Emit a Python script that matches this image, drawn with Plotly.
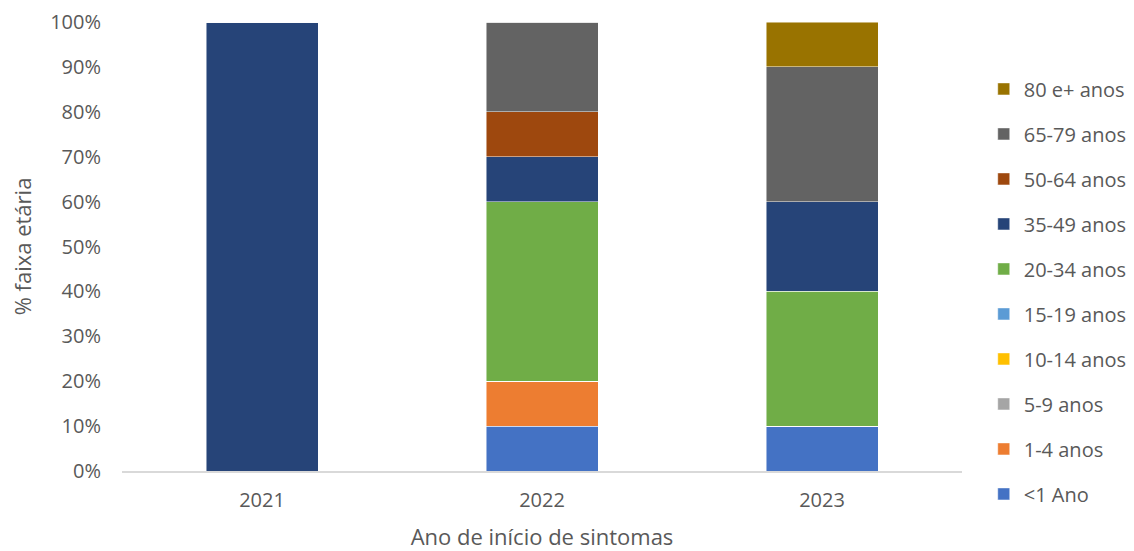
import plotly.graph_objects as go

years = ["2021", "2022", "2023"]
groups = ["<1 Ano", "1-4 anos", "5-9 anos", "10-14 anos", "15-19 anos",
          "20-34 anos", "35-49 anos", "50-64 anos", "65-79 anos", "80 e+ anos"]
values = {
    "<1 Ano":     [0, 10, 10],
    "1-4 anos":   [0, 10, 0],
    "5-9 anos":   [0, 0, 0],
    "10-14 anos": [0, 0, 0],
    "15-19 anos": [0, 0, 0],
    "20-34 anos": [0, 40, 30],
    "35-49 anos": [100, 10, 20],
    "50-64 anos": [0, 10, 0],
    "65-79 anos": [0, 20, 30],
    "80 e+ anos": [0, 0, 10],
}
colors = ["#4472C4", "#ED7D31", "#A5A5A5", "#FFC000", "#5B9BD5",
          "#70AD47", "#264478", "#9E480E", "#636363", "#997300"]
yticks = list(range(0, 101, 10))
ytext = [f"{v}%" for v in yticks]

FONT = "Open Sans"
TXT = "#595959"

fig = go.Figure()
for i, (g, c) in enumerate(zip(groups, colors)):
    fig.add_trace(go.Bar(
        x=years, y=values[g], name=g, legendgroup=g, legendrank=1000 - i,
        marker=dict(color=c, line=dict(color="rgba(255,255,255,0.6)", width=0.8)),
    ))

fig.update_layout(
    barmode="stack",
    bargap=0.6,
    width=1134, height=551,
    margin=dict(l=122, r=172, t=22, b=80),
    paper_bgcolor="white", plot_bgcolor="white",
    font=dict(family=FONT, size=20, color=TXT),
    showlegend=True,
    legend=dict(
        xref="container", yref="container",
        x=0.8675, xanchor="left", y=0.874, yanchor="top",
        traceorder="grouped", tracegroupgap=16,
        font=dict(family=FONT, size=20, color=TXT),
        itemwidth=30, maxheight=540, borderwidth=0,
    ),
    xaxis=dict(
        automargin=False,
        showline=True, linecolor="#D9D9D9", linewidth=1.5,
        ticks="", tickfont=dict(size=20, color=TXT), ticklabelstandoff=10,
        title=dict(text="Ano de início de sintomas", font=dict(size=22, color=TXT), standoff=24),
        showgrid=False,
    ),
    yaxis=dict(
        automargin=False,
        range=[0, 100], tickvals=yticks, ticktext=ytext,
        showgrid=False, zeroline=False, showline=False, ticks="",
        tickfont=dict(size=20, color=TXT), ticklabelstandoff=20,
        title=dict(text="% faixa etária", font=dict(size=22, color=TXT), standoff=12),
    ),
)

fig.write_html("out.html")
